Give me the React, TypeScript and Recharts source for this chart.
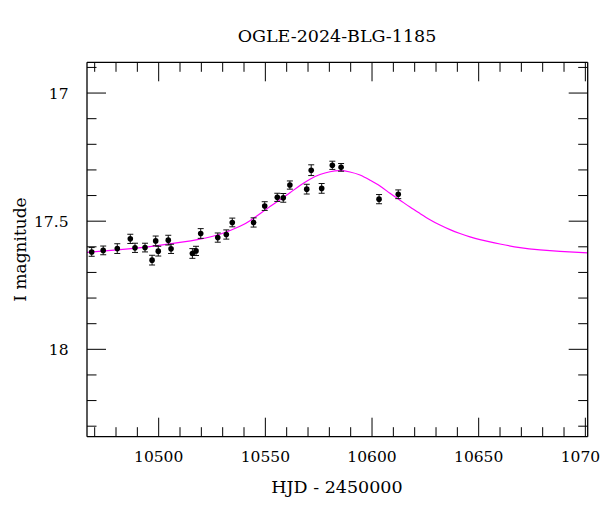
import React from 'react';
import { ComposedChart, Scatter, Line, XAxis, YAxis, ErrorBar } from 'recharts';

// OGLE photometry (HJD - 2450000, I mag, error)
const hjd = [
  10468.6, 10474.0, 10480.6, 10486.7, 10488.9, 10493.6, 10496.9, 10498.6, 10499.8, 10504.5,
  10505.8, 10515.8, 10517.5, 10519.7, 10527.7, 10531.7, 10534.5, 10544.5, 10549.7, 10555.6,
  10558.4, 10561.5, 10569.4, 10571.5, 10576.4, 10581.4, 10585.5, 10603.3, 10612.3,
];
const mag = [
  17.620, 17.614, 17.607, 17.569, 17.604, 17.603, 17.652, 17.577, 17.617, 17.574,
  17.608, 17.626, 17.616, 17.548, 17.564, 17.552, 17.505, 17.505, 17.441, 17.407,
  17.409, 17.359, 17.375, 17.301, 17.372, 17.282, 17.290, 17.414, 17.395,
];
const magErr = [
  0.017, 0.017, 0.019, 0.018, 0.018, 0.017, 0.019, 0.019, 0.019, 0.019,
  0.018, 0.019, 0.018, 0.019, 0.018, 0.018, 0.017, 0.018, 0.017, 0.016,
  0.017, 0.016, 0.019, 0.021, 0.019, 0.016, 0.015, 0.018, 0.017,
];

// model light curve
const modelHjd = [
  10466.39, 10481.86, 10495.92, 10509.98, 10519.36, 10528.73, 10538.11, 10542.80, 10547.48, 10552.17,
  10556.86, 10561.55, 10566.23, 10570.92, 10575.61, 10580.30, 10584.98, 10589.67, 10594.36, 10599.05,
  10603.73, 10608.42, 10613.11, 10617.80, 10622.48, 10627.17, 10631.86, 10636.55, 10641.23, 10645.92,
  10650.61, 10655.30, 10659.98, 10669.36, 10678.73, 10688.11, 10701.09,
];
const modelMag = [
  17.622, 17.611, 17.599, 17.583, 17.570, 17.551, 17.520, 17.498, 17.471, 17.443,
  17.416, 17.389, 17.361, 17.336, 17.318, 17.307, 17.303, 17.308, 17.320, 17.340,
  17.363, 17.391, 17.418, 17.445, 17.470, 17.494, 17.515, 17.533, 17.548, 17.561,
  17.572, 17.581, 17.589, 17.603, 17.612, 17.618, 17.624,
];

const xTicks = [
  10470, 10480, 10490, 10500, 10510, 10520, 10530, 10540, 10550, 10560, 10570, 10580,
  10590, 10600, 10610, 10620, 10630, 10640, 10650, 10660, 10670, 10680, 10690, 10700,
];
const xMajor = [10500, 10550, 10600, 10650, 10700];
const yTicks = [16.9, 17, 17.1, 17.2, 17.3, 17.4, 17.5, 17.6, 17.7, 17.8, 17.9, 18, 18.1, 18.2, 18.3];
const yMajor = [17, 17.5, 18];

const points = hjd.map((x, i) => ({ x, y: mag[i], err: magErr[i] }));
const model = modelHjd.map((x, i) => ({ x, m: modelMag[i] }));

const FONT = '"DejaVu Serif", serif';
const MAJOR = 19;
const MINOR = 9.5;

const BottomTick = ({ x, y, payload }: any) => {
  const major = xMajor.includes(payload.value);
  return (
    <g>
      <line x1={x} x2={x} y1={y} y2={y - (major ? MAJOR : MINOR)} stroke="#000" strokeWidth={1} />
      {major && (
        <text x={x} y={y + 25} textAnchor="middle" fontFamily={FONT} fontSize={15.5} fill="#000">
          {payload.value}
        </text>
      )}
    </g>
  );
};

const TopTick = ({ x, y, payload }: any) => {
  const major = xMajor.includes(payload.value);
  return <line x1={x} x2={x} y1={y} y2={y + (major ? MAJOR : MINOR)} stroke="#000" strokeWidth={1} />;
};

const LeftTick = ({ x, y, payload }: any) => {
  const major = yMajor.includes(payload.value);
  return (
    <g>
      <line x1={x} x2={x + (major ? MAJOR : MINOR)} y1={y} y2={y} stroke="#000" strokeWidth={1} />
      {major && (
        <text x={x - 18.5} y={y} dy="0.36em" textAnchor="end" fontFamily={FONT} fontSize={15.5} fill="#000">
          {payload.value}
        </text>
      )}
    </g>
  );
};

const RightTick = ({ x, y, payload }: any) => {
  const major = yMajor.includes(payload.value);
  return <line x1={x} x2={x - (major ? MAJOR : MINOR)} y1={y} y2={y} stroke="#000" strokeWidth={1} />;
};

const Dot = ({ cx, cy }: any) => <circle cx={cx} cy={cy} r={2.8} fill="#000" />;

const axisLine = { stroke: '#000', strokeWidth: 1.3 };
const xDomain = [10466.4, 10701.1];
const yDomain = [16.88, 18.341];

export default function App() {
  return (
    <div style={{ position: 'absolute', left: 0, top: 0, width: 600, height: 512, overflow: 'hidden', background: '#fff' }}>
      <ComposedChart width={600} height={512} margin={{ top: 0.3, right: 0.3, bottom: 0.3, left: 0 }}>
        <XAxis
          xAxisId="b"
          dataKey="x"
          type="number"
          orientation="bottom"
          domain={xDomain}
          allowDataOverflow
          ticks={xTicks}
          interval={0}
          height={75}
          tickSize={0}
          tickMargin={0}
          tickLine={false}
          axisLine={axisLine}
          tick={BottomTick}
        />
        <XAxis
          xAxisId="t"
          dataKey="x"
          type="number"
          orientation="top"
          domain={xDomain}
          allowDataOverflow
          ticks={xTicks}
          interval={0}
          height={62}
          tickSize={0}
          tickMargin={0}
          tickLine={false}
          axisLine={axisLine}
          tick={TopTick}
        />
        <YAxis
          yAxisId="l"
          dataKey="y"
          type="number"
          orientation="left"
          reversed
          domain={yDomain}
          allowDataOverflow
          ticks={yTicks}
          interval={0}
          width={87}
          tickSize={0}
          tickMargin={0}
          tickLine={false}
          axisLine={axisLine}
          tick={LeftTick}
        />
        <YAxis
          yAxisId="r"
          dataKey="y"
          type="number"
          orientation="right"
          reversed
          domain={yDomain}
          allowDataOverflow
          ticks={yTicks}
          interval={0}
          width={12}
          tickSize={0}
          tickMargin={0}
          tickLine={false}
          axisLine={axisLine}
          tick={RightTick}
        />
        <Line
          xAxisId="b"
          yAxisId="l"
          data={model}
          dataKey="m"
          type="natural"
          stroke="#ff00ff"
          strokeWidth={1.2}
          dot={false}
          activeDot={false}
          isAnimationActive={false}
        />
        <Scatter
          xAxisId="b"
          yAxisId="l"
          data={points}
          dataKey="y"
          shape={Dot}
          isAnimationActive={false}
        >
          <ErrorBar dataKey="err" direction="y" width={3} stroke="#111" strokeWidth={1} isAnimationActive={false} />
        </Scatter>
      </ComposedChart>
      <svg width={600} height={512} style={{ position: 'absolute', left: 0, top: 0, pointerEvents: 'none' }}>
        <text x={337} y={42} textAnchor="middle" fontFamily={FONT} fontSize={17.5} fill="#000">
          OGLE-2024-BLG-1185
        </text>
        <text x={337} y={493} textAnchor="middle" fontFamily={FONT} fontSize={17.5} fill="#000">
          HJD - 2450000
        </text>
        <text
          x={0}
          y={0}
          transform="translate(26 249.5) rotate(-90)"
          textAnchor="middle"
          fontFamily={FONT}
          fontSize={17}
          fill="#000"
        >
          I magnitude
        </text>
      </svg>
    </div>
  );
}
